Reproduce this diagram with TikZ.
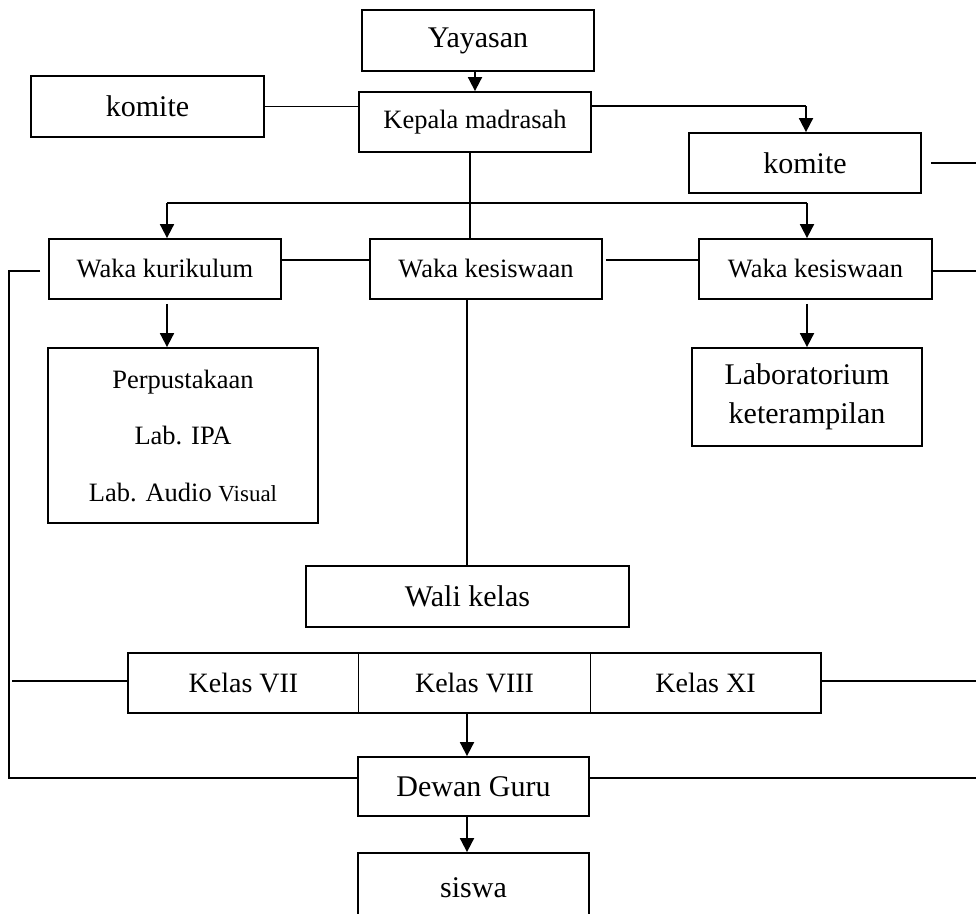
\documentclass[tikz,border=0pt]{standalone}
\usepackage{fontspec}
\setmainfont{Liberation Serif}
\usetikzlibrary{arrows.meta}
\begin{document}
\begin{tikzpicture}[x=1pt,y=-1pt,
  box/.style={draw, line width=1.8pt, inner sep=0pt, align=center},
  big/.style={font=\fontsize{30}{34}\selectfont},
  mid/.style={font=\fontsize{26.5}{30}\selectfont},
  conn/.style={line width=1.8pt},
  arr/.style={line width=1.8pt, -{Triangle[width=14pt,length=14pt]}}]
\useasboundingbox (0,0) rectangle (976,913);
\clip (0,0) rectangle (976,913);
% nodes
\node[box,big,minimum width=232pt,minimum height=61pt] (yay) at (478,40.5) {Yayasan};
\node[box,big,minimum width=233pt,minimum height=61pt] (komL) at (147.5,106.5) {komite};
\node[box,mid,minimum width=232pt,minimum height=60pt] (kep) at (475,122) {Kepala madrasah};
\node[box,big,minimum width=232pt,minimum height=60pt] (komR) at (805,163) {komite};
\node[box,mid,minimum width=232pt,minimum height=60pt] (wkur) at (165,269) {Waka kurikulum};
\node[box,mid,minimum width=232pt,minimum height=60pt] (wcen) at (486,269) {Waka kesiswaan};
\node[box,mid,minimum width=233pt,minimum height=60pt] (wright) at (815.5,269) {Waka kesiswaan};
\node[box,font=\fontsize{26.5}{56.5}\selectfont,minimum width=270pt,minimum height=175pt] (perp) at (183,435.5)
  {Perpustakaan\\Lab. IPA\\Lab. Audio {\fontsize{23}{26}\selectfont Visual}};
\node[box,font=\fontsize{30}{38.5}\selectfont,minimum width=230pt,minimum height=98pt] (lab) at (807,397)
  {Laboratorium\\keterampilan};
\node[box,big,minimum width=323pt,minimum height=61pt] (wali) at (467.5,596.5) {Wali kelas};
\node[inner sep=0pt,font=\fontsize{28}{32}\selectfont,minimum width=231pt,minimum height=60pt] (k7) at (243.5,683) {Kelas VII};
\node[inner sep=0pt,font=\fontsize{28}{32}\selectfont,minimum width=231pt,minimum height=60pt] (k8) at (474.5,683) {Kelas VIII};
\node[inner sep=0pt,font=\fontsize{28}{32}\selectfont,minimum width=231pt,minimum height=60pt] (k11) at (705.5,683) {Kelas XI};
\draw[line width=1.8pt] (k7.north west) rectangle (k11.south east);
\draw[line width=0.9pt] (k8.north west) -- (k8.south west);
\draw[line width=0.9pt] (k8.north east) -- (k8.south east);
\node[box,big,minimum width=231pt,minimum height=59pt] (dewan) at (473.5,786.5) {Dewan Guru};
\node[box,big,minimum width=231pt,minimum height=70pt] (siswa) at (473.5,888) {siswa};
% coordinates
\coordinate (bc) at (470,203);
\coordinate (bl) at (167,203);
\coordinate (br) at (807,203);
\coordinate (kr) at (806,106);
\coordinate (lt) at (9,271);
\coordinate (lg) at (40,271);
\coordinate (lb) at (9,778);
\coordinate (lk) at (12,681);
\coordinate (rkom) at (976,163);
\coordinate (rw) at (976,271);
\coordinate (rk) at (976,681);
\coordinate (rd) at (976,778);
\coordinate (vc) at (467,0);
% connectors
\draw[arr] (kep.north |- yay.south) -- (kep.north);
\draw[conn] (komL.east) -- (komL.east -| kep.west);
\draw[conn] (kep.east |- kr) -- (kr);
\draw[arr] (kr) -- (kr |- komR.north);
\draw[conn] ([xshift=9pt]komR.east |- rkom) -- (rkom);
\draw[conn] (bc |- kep.south) -- (bc |- wcen.north);
\draw[conn] (bl) -- (br);
\draw[arr] (bl) -- (bl |- wkur.north);
\draw[arr] (br) -- (br |- wright.north);
\draw[conn] (wkur.east |- 0,260) -- (wcen.west |- 0,260);
\draw[conn] ([xshift=3pt]wcen.east |- 0,260) -- (wright.west |- 0,260);
\draw[conn] (lg) -- (lt) -- (lb) -- (lb -| dewan.west);
\draw[conn] ([xshift=-2pt]wright.east |- rw) -- (rw);
\draw[arr] ([yshift=-4pt]wkur.south -| bl) -- (perp.north -| bl);
\draw[arr] ([yshift=-4pt]wright.south -| br) -- (lab.north -| br);
\draw[conn] (vc |- wcen.south) -- (vc |- wali.north);
\draw[conn] (lk) -- (lk -| k7.west);
\draw[conn] (k11.east |- rk) -- (rk);
\draw[arr] (vc |- k8.south) -- (vc |- dewan.north);
\draw[conn] (dewan.east |- rd) -- (rd);
\draw[arr] (vc |- dewan.south) -- (vc |- siswa.north);
\end{tikzpicture}
\end{document}
